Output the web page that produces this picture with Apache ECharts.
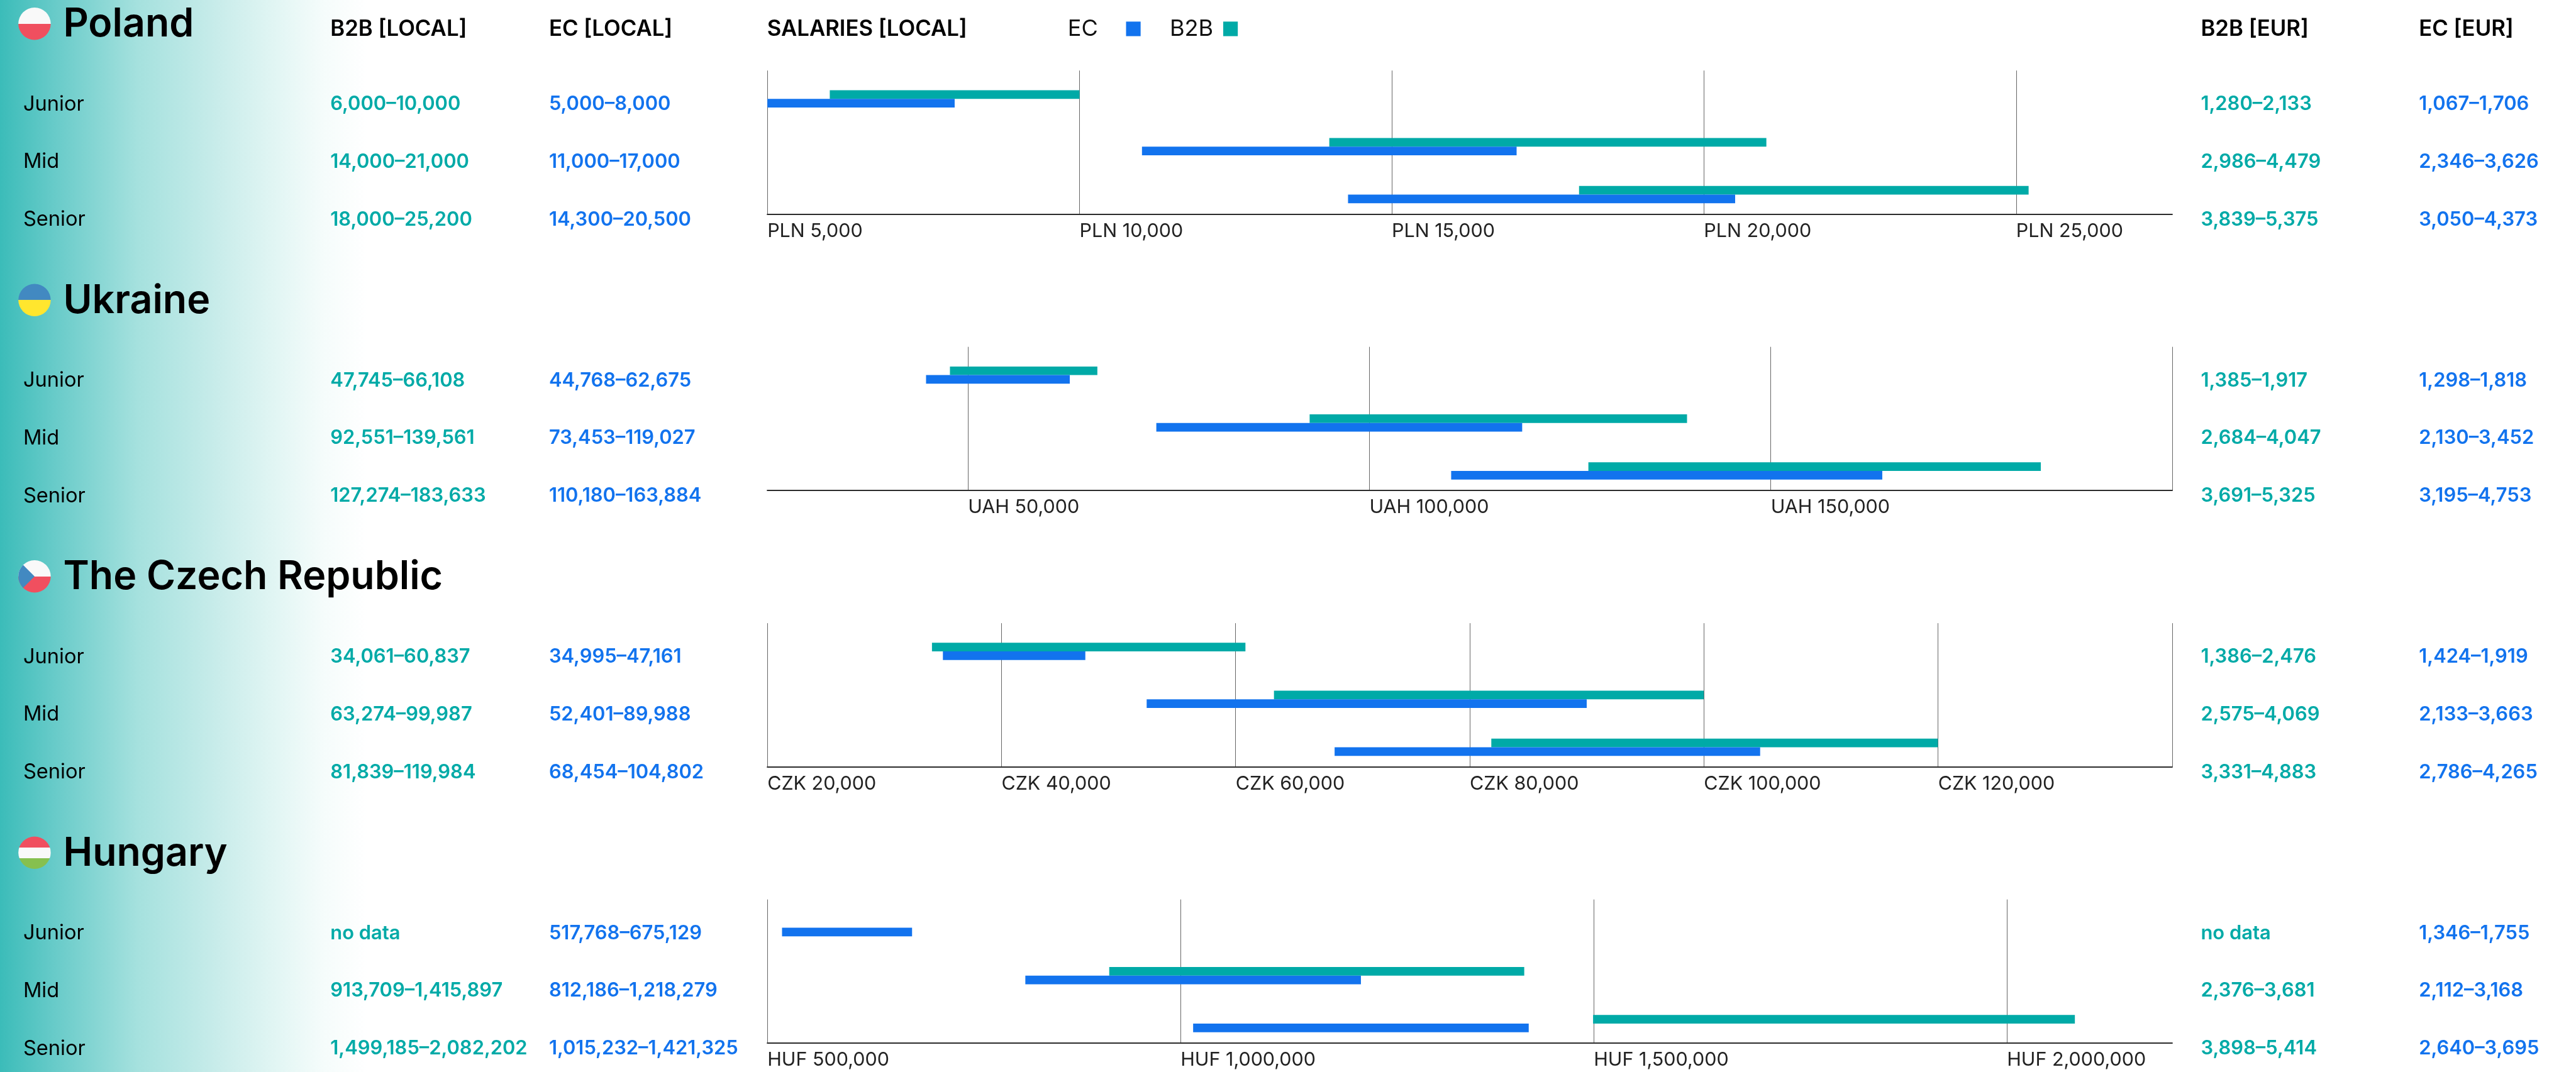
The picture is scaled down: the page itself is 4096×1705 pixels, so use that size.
<!DOCTYPE html>
<html>
<head>
<meta charset="utf-8">
<title>Salaries by country</title>
<script src="https://cdn.jsdelivr.net/npm/echarts@6/dist/echarts.min.js"></script>
<style>html,body{margin:0;padding:0;background:#fff}#chart{width:4096px;height:1705px}</style>
</head>
<body>
<div id="chart"></div>
<script>
// Salary ranges per level, as [low, high]; null marks a missing range.
const levels = ['Junior', 'Mid', 'Senior'];

const countryNames = ['Poland', 'Ukraine', 'The Czech Republic', 'Hungary'];
const currencies = ['PLN', 'UAH', 'CZK', 'HUF'];

const polandB2B = [[6000, 10000], [14000, 21000], [18000, 25200]];
const polandEC = [[5000, 8000], [11000, 17000], [14300, 20500]];
const polandB2BEur = [[1280, 2133], [2986, 4479], [3839, 5375]];
const polandECEur = [[1067, 1706], [2346, 3626], [3050, 4373]];

const ukraineB2B = [[47745, 66108], [92551, 139561], [127274, 183633]];
const ukraineEC = [[44768, 62675], [73453, 119027], [110180, 163884]];
const ukraineB2BEur = [[1385, 1917], [2684, 4047], [3691, 5325]];
const ukraineECEur = [[1298, 1818], [2130, 3452], [3195, 4753]];

const czechB2B = [[34061, 60837], [63274, 99987], [81839, 119984]];
const czechEC = [[34995, 47161], [52401, 89988], [68454, 104802]];
const czechB2BEur = [[1386, 2476], [2575, 4069], [3331, 4883]];
const czechECEur = [[1424, 1919], [2133, 3663], [2786, 4265]];

const hungaryB2B = [null, [913709, 1415897], [1499185, 2082202]];
const hungaryEC = [[517768, 675129], [812186, 1218279], [1015232, 1421325]];
const hungaryB2BEur = [null, [2376, 3681], [3898, 5414]];
const hungaryECEur = [[1346, 1755], [2112, 3168], [2640, 3695]];

const polandAxis = [5000, 27500];
const ukraineAxis = [25000, 200000];
const czechAxis = [20000, 140000];
const hungaryAxis = [500000, 2200000];

const polandLines = [5000, 10000, 15000, 20000, 25000];
const ukraineLines = [50000, 100000, 150000, 200000];
const czechLines = [20000, 40000, 60000, 80000, 100000, 120000, 140000];
const hungaryLines = [500000, 1000000, 1500000, 2000000];

const polandLabels = [5000, 10000, 15000, 20000, 25000];
const ukraineLabels = [50000, 100000, 150000];
const czechLabels = [20000, 40000, 60000, 80000, 100000, 120000];
const hungaryLabels = [500000, 1000000, 1500000, 2000000];

const sections = [
  { b2b: polandB2B, ec: polandEC, b2bEur: polandB2BEur, ecEur: polandECEur, axis: polandAxis, lines: polandLines, labels: polandLabels },
  { b2b: ukraineB2B, ec: ukraineEC, b2bEur: ukraineB2BEur, ecEur: ukraineECEur, axis: ukraineAxis, lines: ukraineLines, labels: ukraineLabels },
  { b2b: czechB2B, ec: czechEC, b2bEur: czechB2BEur, ecEur: czechECEur, axis: czechAxis, lines: czechLines, labels: czechLabels },
  { b2b: hungaryB2B, ec: hungaryEC, b2bEur: hungaryB2BEur, ecEur: hungaryECEur, axis: hungaryAxis, lines: hungaryLines, labels: hungaryLabels }
];

// Layout, in units of the full-size design; everything is multiplied by S.
const S = 4096 / 4772;
const FONT = 'Inter';
const TEAL = '#00aaa7';
const BLUE = '#1273ee';
const RED = '#f04f5f';
const SECTION_STEP = 512;
const PLOT_LEFT = 1421.5, PLOT_RIGHT = 4024, PLOT_TOP = 130.7, PLOT_BOTTOM = 397;
const BAR = 16;
const COL = { level: 43, b2b: 612, ec: 1017, b2bEur: 4077, ecEur: 4481 };
const ROW_Y = [193.5, 300, 407];

const fmt = v => v.toLocaleString('en-US');
const rangeText = r => r ? fmt(r[0]) + '–' + fmt(r[1]) : 'no data';

const graphics = [];

function text(x, y, str, size, weight, fill, z) {
  graphics.push({
    type: 'text', x: x * S, y: y * S, z: z || 10,
    style: { text: str, fill: fill, font: weight + ' ' + (size * S) + 'px ' + FONT, verticalAlign: 'middle', align: 'left' }
  });
}

// Left-hand fade behind the table: steeper near the edge, long tail towards white.
graphics.push({
  type: 'rect', z: 0, shape: { x: 0, y: 0, width: 680 * S, height: 1705 },
  style: { fill: new echarts.graphic.LinearGradient(0, 0, 1, 0, [
    { offset: 0, color: '#3bbcb9' },
    { offset: 0.15, color: '#68cbc9' },
    { offset: 0.375, color: '#a5e1de' },
    { offset: 0.59, color: '#c8ecea' },
    { offset: 0.74, color: '#e0f5f3' },
    { offset: 0.88, color: '#f5fcfb' },
    { offset: 1, color: '#ffffff' }
  ]) }
});

// Round flags: horizontal stripes come from hard stops in a vertical gradient.
function stripes(colors) {
  const stops = [];
  colors.forEach((c, i) => {
    stops.push({ offset: i / colors.length, color: c });
    stops.push({ offset: (i + 1) / colors.length, color: c });
  });
  return new echarts.graphic.LinearGradient(0, 0, 0, 1, stops);
}
const flagColors = [
  ['#f9f9f9', RED],
  ['#4289c1', '#ffe62e'],
  ['#f9f9f9', RED],
  [RED, '#f9f9f9', '#86c04f']
];
flagColors.forEach((colors, i) => {
  const cy = (44 + SECTION_STEP * i) * S;
  const cx = 64 * S, r = 30 * S;
  graphics.push({ type: 'circle', z: 5, shape: { cx, cy, r }, style: { fill: stripes(colors) } });
  if (i === 2) {
    graphics.push({
      type: 'sector', z: 6,
      shape: { cx, cy, r, r0: 0, startAngle: Math.PI * 0.75, endAngle: Math.PI * 1.25 },
      style: { fill: '#4289c1' }
    });
  }
});

// Column headers and legend.
text(COL.b2b, 54, 'B2B [LOCAL]', 40.5, 600, '#000');
text(COL.ec, 54, 'EC [LOCAL]', 40.5, 600, '#000');
text(1421, 54, 'SALARIES [LOCAL]', 40.5, 600, '#000');
text(COL.b2bEur, 54, 'B2B [EUR]', 40.5, 600, '#000');
text(COL.ecEur, 54, 'EC [EUR]', 40.5, 600, '#000');
text(1978, 54, 'EC', 42, 400, '#111');
text(2167, 54, 'B2B', 42, 400, '#111');
[[2086, BLUE], [2266, TEAL]].forEach(([x, fill]) => {
  graphics.push({ type: 'rect', z: 10, shape: { x: x * S, y: 40 * S, width: 27 * S, height: 27 * S }, style: { fill } });
});

const grids = [], xAxes = [], yAxes = [], series = [];

function barItem(offset) {
  return function (params, api) {
    const from = api.coord([api.value(0), api.value(2)]);
    const to = api.coord([api.value(1), api.value(2)]);
    const thick = BAR * S;
    return {
      type: 'rect',
      shape: { x: from[0], y: from[1] + offset * thick, width: to[0] - from[0], height: thick },
      style: { fill: api.visual('color') }
    };
  };
}

function rangeRows(ranges) {
  return ranges.map((r, i) => (r ? [r[0], r[1], i] : null)).filter(Boolean);
}

sections.forEach((sec, i) => {
  const dy = SECTION_STEP * i;
  const currency = currencies[i];

  text(117, 44 + dy + 2, countryNames[i], 73, 600, '#000');

  levels.forEach((lvl, r) => {
    const y = ROW_Y[r] + dy;
    text(COL.level, y, lvl, 38, 400, '#000');
    text(COL.b2b, y, rangeText(sec.b2b[r]), 36, 600, TEAL);
    text(COL.ec, y, rangeText(sec.ec[r]), 36, 600, BLUE);
    text(COL.b2bEur, y, rangeText(sec.b2bEur[r]), 36, 600, TEAL);
    text(COL.ecEur, y, rangeText(sec.ecEur[r]), 36, 600, BLUE);
  });

  grids.push({
    left: PLOT_LEFT * S, width: (PLOT_RIGHT - PLOT_LEFT) * S,
    top: (PLOT_TOP + dy) * S, height: (PLOT_BOTTOM - PLOT_TOP) * S,
    containLabel: false
  });
  xAxes.push({
    type: 'value', gridIndex: i, min: sec.axis[0], max: sec.axis[1],
    axisLine: { show: true, onZero: false, lineStyle: { color: '#2b2b2b', width: 2 } },
    axisTick: { show: false, customValues: sec.lines },
    splitLine: { show: true, lineStyle: { color: '#666666', width: 1 } },
    axisLabel: {
      customValues: sec.labels, align: 'left', margin: 14 * S,
      fontFamily: FONT, fontSize: 35.5 * S, color: '#222',
      formatter: v => currency + ' ' + fmt(v)
    }
  });
  yAxes.push({
    type: 'category', gridIndex: i, inverse: true, data: levels,
    axisLine: { show: false }, axisTick: { show: false }, axisLabel: { show: false }, splitLine: { show: false }
  });

  series.push({
    type: 'custom', name: 'B2B', xAxisIndex: i, yAxisIndex: i, itemStyle: { color: TEAL },
    encode: { x: [0, 1], y: 2 }, clip: false, renderItem: barItem(-0.5), data: rangeRows(sec.b2b)
  });
  series.push({
    type: 'custom', name: 'EC', xAxisIndex: i, yAxisIndex: i, itemStyle: { color: BLUE },
    encode: { x: [0, 1], y: 2 }, clip: false, renderItem: barItem(0.5), data: rangeRows(sec.ec)
  });
});

const chart = echarts.init(document.getElementById('chart'));
chart.setOption({
  animation: false,
  backgroundColor: '#ffffff',
  graphic: { elements: graphics },
  grid: grids, xAxis: xAxes, yAxis: yAxes, series: series
});
</script>
</body>
</html>
